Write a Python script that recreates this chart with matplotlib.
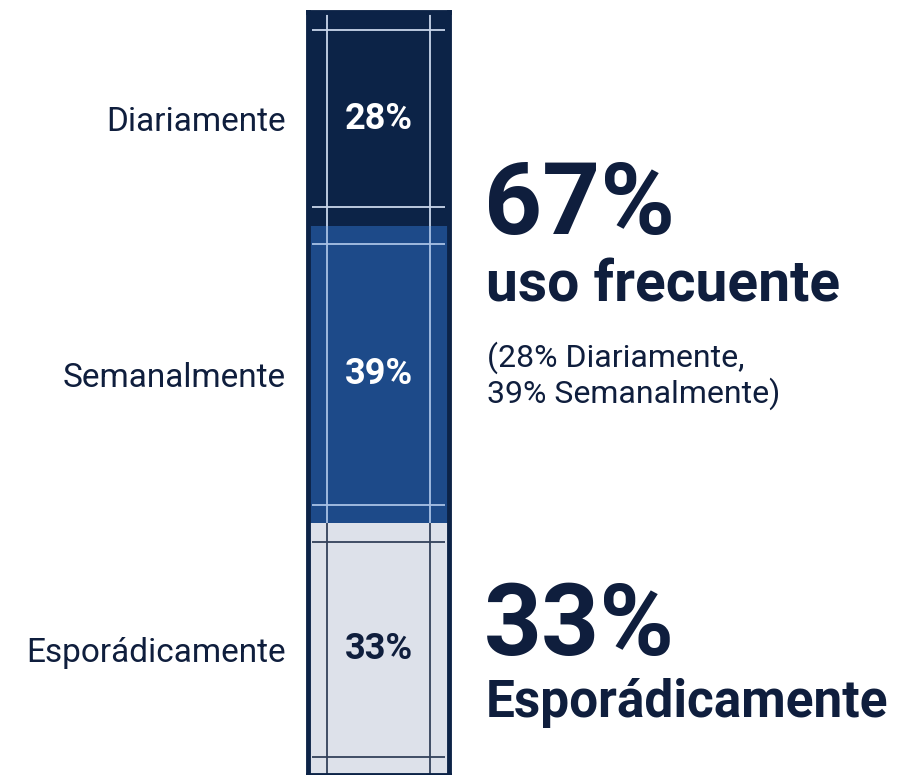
import matplotlib.pyplot as plt

# data (top to bottom in the bar)
categories = ['Diariamente', 'Semanalmente', 'Esporádicamente']
values = [28, 39, 33]
colors = ['#0c2347', '#1d4a89', '#dde1ea']
line_colors = ['#c9d6ea', '#a9c2e6', '#33415a']
pct_colors = ['white', 'white', '#0f1e3d']

frequent = values[0] + values[1]
text_dark = '#0f1e3d'

plt.rcParams['font.family'] = ['Roboto', 'DejaVu Sans']

W, H = 910, 775
fig = plt.figure(figsize=(W / 100, H / 100), dpi=100)
fig.patch.set_facecolor('white')

# axes covering only the bar
ax = fig.add_axes([308 / W, 0, 141 / W, (H - 12) / H])
ax.set_xlim(-0.5, 0.5)
ax.set_ylim(0, 100)

# stack from the bottom: last category lowest
bottoms = []
acc = 0
for v in reversed(values):
    bottoms.insert(0, acc)
    acc += v

for cat, v, b, c, lc, pc in zip(categories, values, bottoms, colors, line_colors, pct_colors):
    ax.bar(0, v, bottom=b, width=1.0, color=c, edgecolor='none', zorder=1)
    # inner decorative lines
    inset_y = 2.4
    ax.hlines([b + inset_y, b + v - inset_y], -0.47, 0.47, color=lc, lw=1.3, zorder=2)
    ax.text(0, b + v / 2, f'{v}%', ha='center', va='center', color=pc,
            fontsize=26, fontweight='bold', zorder=3)

# vertical inner lines through each segment
for b, v, lc in zip(bottoms, values, line_colors):
    ax.vlines([-0.365, 0.365], b, b + v, color=lc, lw=1.3, zorder=2)

# outer border
for side in ['left', 'right', 'top', 'bottom']:
    ax.spines[side].set_color('#0c2347')
    ax.spines[side].set_linewidth(3.5)

ax.set_xticks([])
ax.set_yticks([b + v / 2 for b, v in zip(bottoms, values)])
ax.set_yticklabels(categories, fontsize=24, color=text_dark)
ax.tick_params(axis='y', length=0, pad=16)


def px(x, y):
    return x / W, 1 - y / H


# right-hand callouts
fig.text(*px(484, 234), f'{frequent}%', fontsize=73, fontweight='bold',
         color=text_dark, ha='left', va='baseline')
fig.text(*px(486, 301), 'uso frecuente', fontsize=41, fontweight='bold',
         color=text_dark, ha='left', va='baseline')
fig.text(*px(487, 367), f'({values[0]}% {categories[0]},', fontsize=23,
         color=text_dark, ha='left', va='baseline')
fig.text(*px(487, 403), f'{values[1]}% {categories[1]})', fontsize=23,
         color=text_dark, ha='left', va='baseline')
fig.text(*px(484, 655), f'{values[2]}%', fontsize=73, fontweight='bold',
         color=text_dark, ha='left', va='baseline')
fig.text(*px(486, 717), categories[2], fontsize=37, fontweight='bold',
         color=text_dark, ha='left', va='baseline')

fig.savefig('out.png', dpi=100, facecolor='white')
